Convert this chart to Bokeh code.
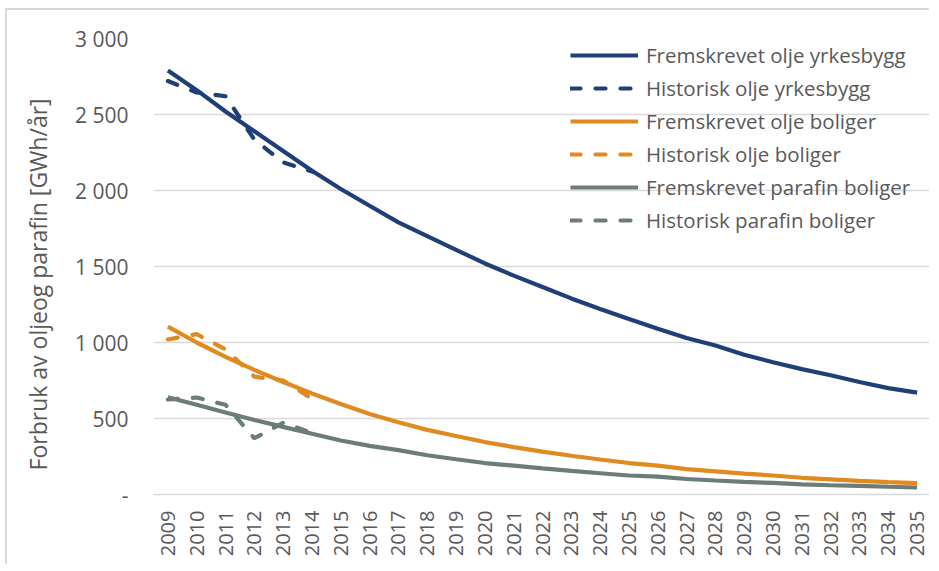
from bokeh.plotting import figure
from bokeh.models import Legend, LegendItem, FixedTicker, CustomJSTickFormatter, Range1d
from bokeh.embed import file_html
from bokeh.resources import INLINE

years = list(range(2009, 2036))
hist_years = list(range(2009, 2015))

proj_olje_yrkesbygg = [2790, 2660, 2520, 2390, 2260, 2130, 2010, 1900, 1790, 1700, 1610,
                       1520, 1440, 1365, 1290, 1220, 1155, 1090, 1030, 980, 920, 870,
                       825, 785, 740, 700, 670]
hist_olje_yrkesbygg = [2720, 2645, 2620, 2335, 2185, 2125]

proj_olje_boliger = [1105, 1000, 905, 820, 740, 665, 595, 530, 475, 425, 385, 345, 312,
                     282, 255, 230, 207, 190, 167, 152, 137, 125, 110, 100, 90, 82, 75]
hist_olje_boliger = [1020, 1055, 955, 775, 750, 630]

proj_parafin_boliger = [640, 590, 540, 490, 445, 400, 355, 320, 292, 258, 232, 207, 190,
                        172, 155, 140, 125, 117, 102, 92, 83, 76, 67, 61, 57, 51, 46]
hist_parafin_boliger = [625, 638, 590, 370, 472, 405]

series_names = ["Fremskrevet olje yrkesbygg", "Historisk olje yrkesbygg",
                "Fremskrevet olje boliger", "Historisk olje boliger",
                "Fremskrevet parafin boliger", "Historisk parafin boliger"]
y_ticks = [0, 500, 1000, 1500, 2000, 2500, 3000]
y_label = "Forbruk av oljeog parafin [GWh/år]"

BLUE = "#1F3F77"
ORANGE = "#E08A20"
GRAY = "#6B7C79"
TEXT = "#595959"
FONT = "Open Sans"
LW = 4.2
DASH = "10 15"

p = figure(width=924, height=556, output_backend="svg", toolbar_location=None,
           x_range=Range1d(2008.5, 2035.5), y_range=Range1d(0, 3000),
           min_border_left=146, min_border_right=0, min_border_top=28, min_border_bottom=72)
p.outline_line_color = None
p.background_fill_color = "white"
p.border_fill_color = "white"

r1 = p.line(years, proj_olje_yrkesbygg, line_color=BLUE, line_width=LW)
r2 = p.line(hist_years, hist_olje_yrkesbygg, line_color=BLUE, line_width=LW, line_dash=DASH, line_cap="round")
r3 = p.line(years, proj_olje_boliger, line_color=ORANGE, line_width=LW)
r4 = p.line(hist_years, hist_olje_boliger, line_color=ORANGE, line_width=LW, line_dash=DASH, line_cap="round")
r5 = p.line(years, proj_parafin_boliger, line_color=GRAY, line_width=LW)
r6 = p.line(hist_years, hist_parafin_boliger, line_color=GRAY, line_width=LW, line_dash=DASH, line_cap="round")

# axes
p.xaxis.ticker = FixedTicker(ticks=years)
p.xaxis.major_label_orientation = 1.5708
p.xaxis.major_label_text_font = FONT
p.xaxis.major_label_text_font_size = "20px"
p.xaxis.major_label_text_color = TEXT
p.xaxis.major_tick_line_color = None
p.xaxis.minor_tick_line_color = None
p.xaxis.axis_line_color = "#D9D9D9"
p.xaxis.axis_line_width = 1.5
p.xaxis.major_label_standoff = 10

p.yaxis.ticker = FixedTicker(ticks=y_ticks)
p.yaxis.formatter = CustomJSTickFormatter(code="""
if (tick == 0) { return "-"; }
var s = Math.round(tick).toString();
return s.replace(/\\B(?=(\\d{3})+(?!\\d))/g, " ");
""")
p.yaxis.major_label_text_font = FONT
p.yaxis.major_label_text_font_size = "21px"
p.yaxis.major_label_text_color = TEXT
p.yaxis.major_tick_line_color = None
p.yaxis.minor_tick_line_color = None
p.yaxis.axis_line_color = None
p.yaxis.major_label_standoff = 19
# trailing non-breaking spaces shift the centred title slightly downwards, as in the original
p.yaxis.axis_label = y_label + "\u00a0" * 6
p.yaxis.axis_label_text_font = FONT
p.yaxis.axis_label_text_font_size = "23px"
p.yaxis.axis_label_text_font_style = "normal"
p.yaxis.axis_label_text_color = TEXT
p.yaxis.axis_label_standoff = 18

p.xgrid.grid_line_color = None
p.ygrid.grid_line_color = "#D9D9D9"
p.ygrid.grid_line_width = 1.5

items = [LegendItem(label=n, renderers=[r]) for n, r in zip(series_names, [r1, r2, r3, r4, r5, r6])]
legend = Legend(items=items, location=(417, 260), border_line_color=None,
                background_fill_alpha=0, padding=0, margin=0, spacing=5,
                glyph_width=68, glyph_height=22, label_height=22,
                label_text_font=FONT, label_text_font_size="20.5px",
                label_text_color=TEXT, label_standoff=8)
p.add_layout(legend)

p.styles = {"border-top": "2px solid #D9D9D9", "border-left": "2px solid #D9D9D9",
            "margin-left": "5px", "margin-top": "8px"}

open("out.html", "w").write(file_html(p, INLINE))
